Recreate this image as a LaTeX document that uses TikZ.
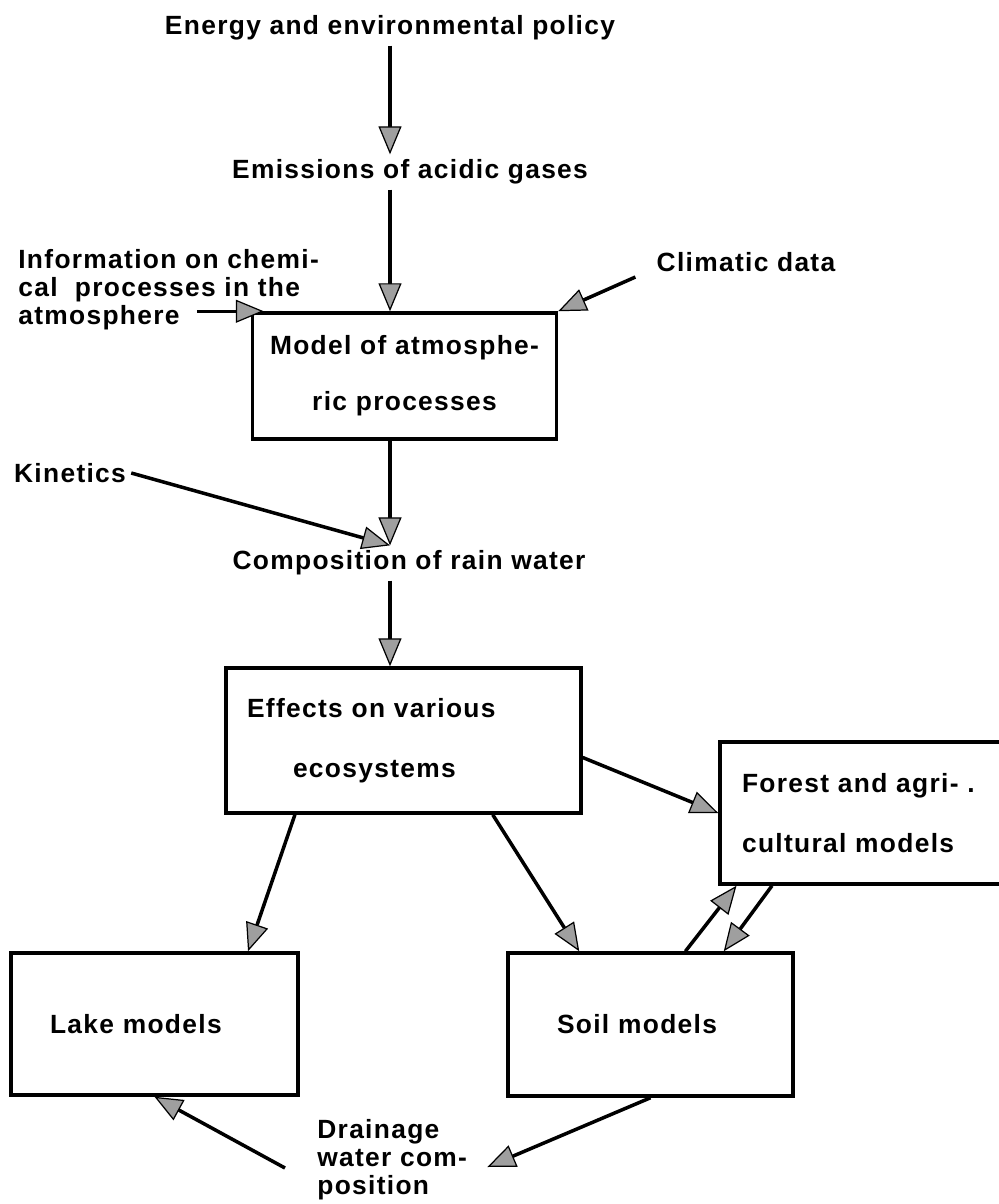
\documentclass[tikz,border=0pt]{standalone}
\usepackage{fontspec}
\setmainfont{Liberation Sans}[LetterSpace=5]
\usepackage{tikz}
\usetikzlibrary{arrows.meta,positioning,calc}

\begin{document}
\begin{tikzpicture}[x=0.02cm, y=-0.02cm,
  every node/.style={font=\fontsize{15pt}{16pt}\selectfont\bfseries, inner sep=0.1cm},
  box/.style={draw, line width=2pt},
  flow/.style={line width=2pt, -{Triangle[length=0.56cm, width=0.46cm, line width=0.7pt, fill=gray!75]}}]
\useasboundingbox (0,0) rectangle (999,1204);
\node (policy) at (390,28) {Energy and environmental policy};
\node (emis) at (410,172) {Emissions of acidic gases};
\node[box, align=center, text width=5.8cm, inner xsep=0.14cm, minimum height=2.52cm] (model) at (404.5,376) {Model of atmosphe-\\[0.56cm]ric processes};
\node[align=left, anchor=west, inner sep=0pt] (info) at (18,290) {Information on chemi-\\cal\ \ processes in the\\atmosphere};
\node (climate) at (746,262) {Climatic data};
\node (kinetics) at (70,473) {Kinetics};
\node (rain) at (409,563) {Composition of rain water};
\node[box, align=left, text width=6.26cm, inner xsep=0.42cm, minimum height=2.9cm] (effects) at (403.5,740.5) {Effects on various\\[0.64cm]\hspace*{0.92cm}ecosystems};
\node[box, align=left, text width=5.12cm, inner xsep=0.44cm, minimum height=2.84cm] (forest) at (870,813) {Forest and agri- .\\[0.64cm]cultural models};
\node[box, align=left, text width=4.18cm, inner xsep=0.78cm, minimum height=2.84cm] (lake) at (154.5,1024) {Lake models};
\node[box, align=left, text width=3.74cm, inner xsep=0.98cm, minimum height=2.86cm] (soil) at (650.5,1024.5) {Soil models};
\node[align=left, anchor=west, inner sep=0pt] (drain) at (317,1160) {Drainage\\water com-\\position};
\draw[flow] (policy.south) -- (policy.south |- emis.north);
\draw[flow] (emis.south -| policy) -- (model.north -| policy);
\draw[flow] ($(model.north west)+(-54,0)$) -- ($(model.north west)+(13,0)$);
\draw[flow] ($(climate.south west)+(-16,0)$) -- (model.north east);
\draw[flow] (model.south -| policy) -- (rain.north -| policy);
\draw[flow] (kinetics.east) -- (rain.north -| policy);
\draw[flow] (rain.south -| policy) -- (effects.north -| policy);
\draw[flow] ($(effects.east)+(0,17)$) -- (forest.west);
\draw[flow] ($(effects.south west)!0.197!(effects.south east)$) -- ($(lake.north west)!0.822!(lake.north east)$);
\draw[flow] ($(effects.south west)!0.749!(effects.south east)$) -- ($(soil.north west)!0.253!(soil.north east)$);
\draw[flow] ($(soil.north west)!0.621!(soil.north east)$) -- ($(forest.south west)!0.06!(forest.south east)$);
\draw[flow] ($(forest.south west)!0.177!(forest.south east)$) -- ($(soil.north west)!0.754!(soil.north east)$);
\draw[flow] (soil.south) -- ($(drain.east)+(20,7)$);
\draw[flow] ($(drain.west)+(-32,8)$) -- (lake.south);
\end{tikzpicture}
\end{document}
